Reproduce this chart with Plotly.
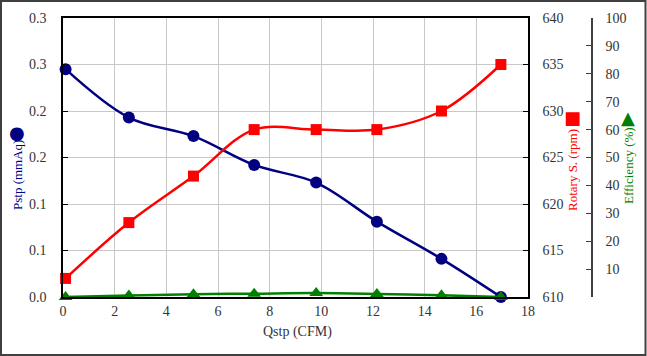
import plotly.graph_objects as go

# ---- data ----
qstp = [0.1, 2.55, 5.05, 7.4, 9.8, 12.15, 14.65, 16.95]
pstp = [0.245, 0.193, 0.173, 0.142, 0.123, 0.081, 0.041, 0.0]
rotary = [612, 618, 623, 628, 628, 628, 630, 635]
efficiency = [0.0, 0.5, 1.0, 1.2, 1.4, 1.1, 0.6, 0.0]

x_ticks = [0, 2, 4, 6, 8, 10, 12, 14, 16, 18]
p_tickvals = [0, 0.05, 0.1, 0.15, 0.2, 0.25, 0.3]
p_ticktext = ["0.0", "0.1", "0.1", "0.2", "0.2", "0.3", "0.3"]
r_ticks = [610, 615, 620, 625, 630, 635, 640]
e_tickvals = [0, 10, 20, 30, 40, 50, 60, 70, 80, 90, 100]
e_ticktext = ["", "10", "20", "30", "40", "50", "60", "70", "80", "90", "100"]

NAVY = "#000080"
RED = "#FF0000"
GREEN = "#008000"
FONT = "Liberation Serif"
SYMFONT = "DejaVu Sans"
TICKC = "#333333"

W, H = 647, 356
L, R, T, B = 63, 55, 18, 59
PW = W - L - R
PH = H - T - B
xdom_end = (528 - L) / PW

def px(xp):
    return (xp - L) / PW

def py(yp):
    return (H - B - yp) / PH

fig = go.Figure()
fig.add_trace(go.Scatter(
    x=qstp, y=pstp, mode="lines+markers", yaxis="y",
    line=dict(color=NAVY, width=2.5, shape="spline"),
    marker=dict(symbol="circle", size=12, color=NAVY),
    cliponaxis=False, showlegend=False))
fig.add_trace(go.Scatter(
    x=qstp, y=rotary, mode="lines+markers", yaxis="y2",
    line=dict(color=RED, width=2.5, shape="spline"),
    marker=dict(symbol="square", size=11, color=RED),
    cliponaxis=False, showlegend=False))
fig.add_trace(go.Scatter(
    x=qstp, y=efficiency, mode="lines+markers", yaxis="y3",
    line=dict(color=GREEN, width=2.5, shape="spline"),
    marker=dict(symbol="triangle-up", size=12, color=GREEN),
    cliponaxis=False, showlegend=False))

axis_font = dict(family=FONT, size=14, color=TICKC)

def vtext(text, x, y, color, size=13, family=FONT, angle=-90):
    return dict(text=text, xref="paper", yref="paper", x=px(x), y=py(y),
                textangle=angle, showarrow=False, xanchor="center",
                yanchor="middle", font=dict(family=family, size=size, color=color))

fig.update_layout(
    width=W, height=H,
    margin=dict(l=L, r=R, t=T, b=B),
    paper_bgcolor="white", plot_bgcolor="white",
    font=dict(family=FONT, size=14, color=TICKC),
    xaxis=dict(
        domain=[0, xdom_end], range=[0, 18], tickvals=x_ticks,
        showgrid=True, gridcolor="#c8c8c8", gridwidth=1,
        showline=True, linecolor="black", linewidth=1.5, mirror=True,
        ticks="", tickfont=axis_font, zeroline=False,
    ),
    yaxis=dict(
        range=[0, 0.3], tickvals=p_tickvals, ticktext=p_ticktext,
        showgrid=True, gridcolor="#c8c8c8", gridwidth=1,
        showline=True, linecolor="black", linewidth=1.5, mirror=True,
        ticks="inside", ticklen=5, tickcolor="black",
        tickfont=axis_font, zeroline=False, ticklabelstandoff=12,
    ),
    yaxis2=dict(
        range=[610, 640], tickvals=r_ticks, overlaying="y", side="right",
        anchor="x", showgrid=False, showline=True, linecolor="black",
        linewidth=1.5, ticks="inside", ticklen=5, tickcolor="black",
        tickfont=axis_font, zeroline=False, ticklabelstandoff=10,
    ),
    yaxis3=dict(
        range=[0, 100], tickvals=e_tickvals, ticktext=e_ticktext,
        overlaying="y", side="right", anchor="free", position=1.0,
        showgrid=False, showline=True, linecolor="#404040", linewidth=1.5,
        ticks="inside", ticklen=5, tickcolor="#404040",
        tickfont=axis_font, zeroline=False, ticklabelstandoff=10,
    ),
    annotations=[
        vtext("Pstp (mmAq)", 17, 175, NAVY),
        vtext("●", 17, 132, NAVY, size=18, family=SYMFONT, angle=0),
        vtext("Rotary S. (rpm)", 572, 170, RED),
        vtext("■", 572, 117, RED, size=18, family=SYMFONT, angle=0),
        vtext("Efficiency (%)", 628, 166, GREEN),
        vtext("▲", 628, 117, GREEN, size=18, family=SYMFONT, angle=0),
        vtext("Qstp (CFM)", 297, 332, TICKC, size=14, angle=0),
    ],
    shapes=[
        dict(type="rect", xref="paper", yref="paper",
             x0=px(1), x1=px(645.5), y0=py(355), y1=py(1),
             line=dict(color="#404040", width=2), fillcolor="rgba(0,0,0,0)",
             layer="below"),
    ],
)

fig.write_html("out.html", config={"displayModeBar": False},
               post_script="document.body.style.margin='0px';document.body.style.overflow='hidden';")
